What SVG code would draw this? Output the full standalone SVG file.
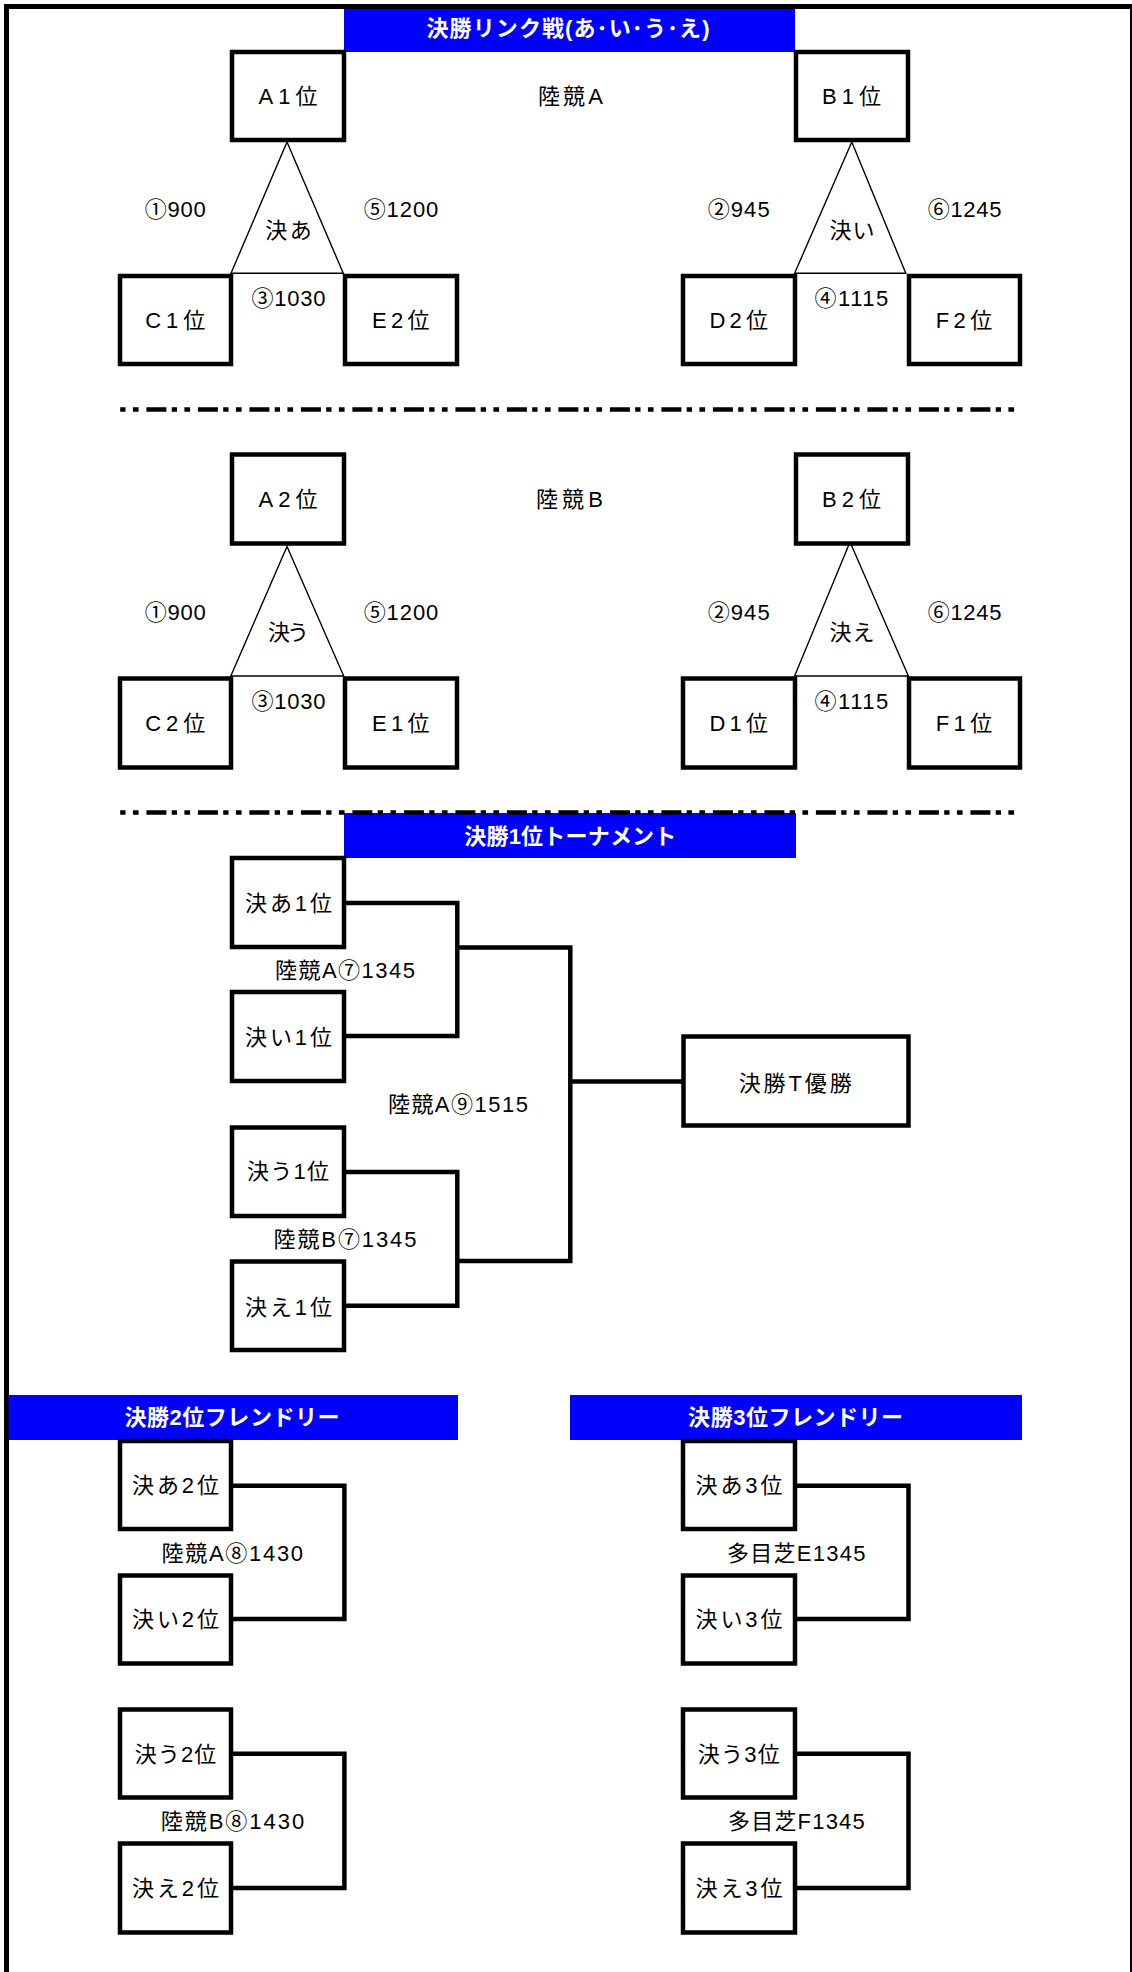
<svg xmlns="http://www.w3.org/2000/svg" width="1132" height="1972" viewBox="0 0 1132 1972">
<style>
.box{fill:#fff;stroke:#000;stroke-width:4.5}
.t{font-family:"Liberation Sans","Noto Sans CJK JP",sans-serif;font-size:22px;fill:#000;text-anchor:middle}
.h{font-family:"Liberation Sans","Noto Sans CJK JP",sans-serif;font-size:22px;font-weight:bold;fill:#fff;text-anchor:middle}
.bar{fill:#0000ff}
.tri{fill:none;stroke:#000;stroke-width:1.4}
.br{fill:none;stroke:#000;stroke-width:4.5;stroke-linejoin:miter}
.dash{stroke:#000;stroke-width:4.5;stroke-dasharray:5.3 7.4 5.7 7.8 20 5.3}
</style>
<rect width="1132" height="1972" fill="#fff"/>
<g id="frame">
<path d="M6.5,1972 V6.5 H1132" fill="none" stroke="#000" stroke-width="5"/>
<line x1="1131" y1="4" x2="1131" y2="1972" stroke="#000" stroke-width="2"/>
</g>
<g id="headers">
<rect class="bar" x="344" y="9" width="451" height="43"/>
<text class="h" x="568" y="36" textLength="283">決勝リンク戦(あ･い･う･え)</text>
<rect class="bar" x="344" y="813" width="452" height="45"/>
<text class="h" x="570.3" y="844" textLength="212">決勝1位トーナメント</text>
<rect class="bar" x="8.5" y="1395" width="449.5" height="45"/>
<text class="h" x="232" y="1425" textLength="215">決勝2位フレンドリー</text>
<rect class="bar" x="570" y="1395" width="452" height="45"/>
<text class="h" x="795.6" y="1425" textLength="215">決勝3位フレンドリー</text>
</g>
<g id="separators">
<line class="dash" x1="120.2" y1="409.5" x2="1014.5" y2="409.5"/>
<line class="dash" x1="120.2" y1="812.5" x2="1014.5" y2="812.5"/>
</g>
<g id="connectors">
<polygon class="tri" points="287,142 231,273.3 343.3,273.3"/>
<polygon class="tri" points="851.8,142 794.6,273.3 905.8,273.3"/>
<polygon class="tri" points="287,546.5 230.8,676 343.7,676"/>
<polygon class="tri" points="850,542 794.6,676 908.4,676"/>
<path class="br" d="M344,903 H457.3 V1036 H344"/>
<path class="br" d="M344,1172 H457.3 V1305.7 H344"/>
<path class="br" d="M457.3,947.5 H570.3 V1261 H457.3"/>
<path class="br" d="M570.3,1081.4 H683.5"/>
<path class="br" d="M231,1485.7 H344.4 V1619 H231"/>
<path class="br" d="M231,1753.8 H344.4 V1888 H231"/>
<path class="br" d="M795,1485.7 H908.5 V1619 H795"/>
<path class="br" d="M795,1753.8 H908.5 V1888 H795"/>
</g>
<g id="labels">
<text class="t" x="570.4" y="104" textLength="65">陸競A</text>
<text class="t" x="175.3" y="217" textLength="61">①900</text>
<text class="t" x="401" y="217" textLength="74.6">⑤1200</text>
<text class="t" x="738.7" y="217" textLength="62">②945</text>
<text class="t" x="964.6" y="217" textLength="73.7">⑥1245</text>
<text class="t" x="288.5" y="237.5" textLength="46.7">決あ</text>
<text class="t" x="851.9" y="237.5" textLength="45">決い</text>
<text class="t" x="288.4" y="306" textLength="74">③1030</text>
<text class="t" x="851.4" y="306" textLength="73.7">④1115</text>
<text class="t" x="569.4" y="506.5" textLength="67">陸競B</text>
<text class="t" x="175.3" y="619.5" textLength="61">①900</text>
<text class="t" x="401" y="619.5" textLength="74.6">⑤1200</text>
<text class="t" x="738.7" y="619.5" textLength="62">②945</text>
<text class="t" x="964.6" y="619.5" textLength="73.7">⑥1245</text>
<text class="t" x="288.5" y="640" textLength="41">決う</text>
<text class="t" x="851.9" y="640" textLength="45">決え</text>
<text class="t" x="288.4" y="708.5" textLength="74">③1030</text>
<text class="t" x="851.4" y="708.5" textLength="73.7">④1115</text>
<text class="t" x="345" y="977.8" textLength="140">陸競A⑦1345</text>
<text class="t" x="457.9" y="1112" textLength="140">陸競A⑨1515</text>
<text class="t" x="345" y="1246.7" textLength="143">陸競B⑦1345</text>
<text class="t" x="232.3" y="1560.5" textLength="141.6">陸競A⑧1430</text>
<text class="t" x="232.5" y="1829.3" textLength="143.5">陸競B⑧1430</text>
<text class="t" x="796.2" y="1560.5" textLength="138.6">多目芝E1345</text>
<text class="t" x="796.4" y="1829" textLength="136.7">多目芝F1345</text>
</g>
<g id="node-A1"><rect class="box" x="232" y="52" width="112" height="88"/><text class="t" x="288" y="104" textLength="59">A1位</text></g>
<g id="node-B1"><rect class="box" x="796" y="52" width="112" height="88"/><text class="t" x="851.5" y="104" textLength="59">B1位</text></g>
<g id="node-C1"><rect class="box" x="120" y="276" width="111" height="88"/><text class="t" x="175.3" y="328" textLength="60">C1位</text></g>
<g id="node-E2"><rect class="box" x="345" y="276" width="112" height="88"/><text class="t" x="400.7" y="328" textLength="57.4">E2位</text></g>
<g id="node-D2"><rect class="box" x="683" y="276" width="112" height="88"/><text class="t" x="738.8" y="328" textLength="58.4">D2位</text></g>
<g id="node-F2"><rect class="box" x="909" y="276" width="111" height="88"/><text class="t" x="964" y="328" textLength="56.6">F2位</text></g>
<g id="node-A2"><rect class="box" x="232" y="454.5" width="112" height="89"/><text class="t" x="288" y="506.5" textLength="59">A2位</text></g>
<g id="node-B2"><rect class="box" x="796" y="454.5" width="112" height="89"/><text class="t" x="851.5" y="506.5" textLength="59">B2位</text></g>
<g id="node-C2"><rect class="box" x="120" y="678.5" width="111" height="89"/><text class="t" x="175.3" y="730.5" textLength="60">C2位</text></g>
<g id="node-E1"><rect class="box" x="345" y="678.5" width="112" height="89"/><text class="t" x="400.7" y="730.5" textLength="57.4">E1位</text></g>
<g id="node-D1"><rect class="box" x="683" y="678.5" width="112" height="89"/><text class="t" x="738.8" y="730.5" textLength="58.4">D1位</text></g>
<g id="node-F1"><rect class="box" x="909" y="678.5" width="111" height="89"/><text class="t" x="964" y="730.5" textLength="56.6">F1位</text></g>
<g id="node-a1"><rect class="box" x="232" y="858" width="112" height="89"/><text class="t" x="288.5" y="911" textLength="87">決あ1位</text></g>
<g id="node-i1"><rect class="box" x="232" y="992" width="112" height="89"/><text class="t" x="288.5" y="1045" textLength="87">決い1位</text></g>
<g id="node-u1"><rect class="box" x="232" y="1127.5" width="112" height="88.5"/><text class="t" x="288" y="1179" textLength="82">決う1位</text></g>
<g id="node-e1"><rect class="box" x="232" y="1261.5" width="112" height="88.5"/><text class="t" x="288.5" y="1314.5" textLength="87">決え1位</text></g>
<g id="node-champ"><rect class="box" x="683.5" y="1036.5" width="225" height="89"/><text class="t" x="795.2" y="1091" textLength="113">決勝T優勝</text></g>
<g id="node-a2"><rect class="box" x="120" y="1441" width="111" height="88"/><text class="t" x="175.5" y="1492.5" textLength="87">決あ2位</text></g>
<g id="node-i2"><rect class="box" x="120" y="1575.5" width="111" height="88"/><text class="t" x="175.5" y="1627" textLength="87">決い2位</text></g>
<g id="node-u2"><rect class="box" x="120" y="1709.5" width="111" height="88"/><text class="t" x="175.5" y="1762" textLength="81.5">決う2位</text></g>
<g id="node-e2"><rect class="box" x="120" y="1843.5" width="111" height="89"/><text class="t" x="175.5" y="1895.5" textLength="87">決え2位</text></g>
<g id="node-a3"><rect class="box" x="683" y="1441" width="112" height="88"/><text class="t" x="739" y="1492.5" textLength="87">決あ3位</text></g>
<g id="node-i3"><rect class="box" x="683" y="1575.5" width="112" height="88"/><text class="t" x="739" y="1627" textLength="87">決い3位</text></g>
<g id="node-u3"><rect class="box" x="683" y="1709.5" width="112" height="88"/><text class="t" x="738.8" y="1762" textLength="82">決う3位</text></g>
<g id="node-e3"><rect class="box" x="683" y="1843.5" width="112" height="89"/><text class="t" x="739" y="1895.5" textLength="87">決え3位</text></g>
</svg>
